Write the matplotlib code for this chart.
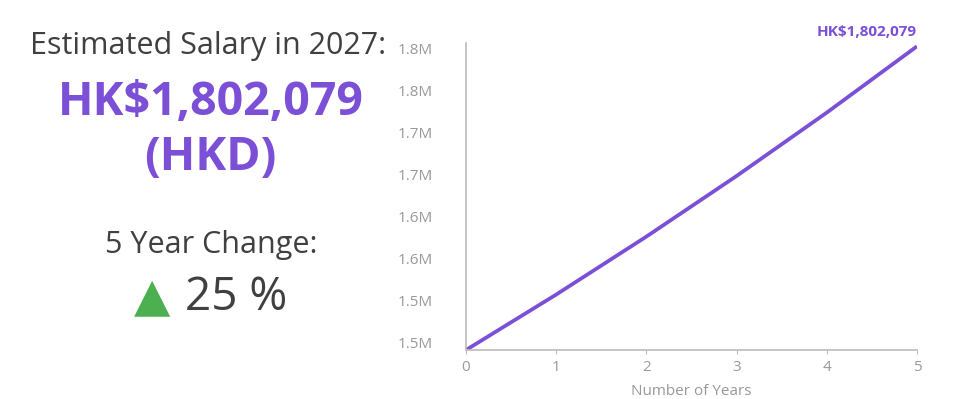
import matplotlib.pyplot as plt

plt.rcParams['font.family'] = ['Open Sans', 'DejaVu Sans']

years = [0, 1, 2, 3, 4, 5]
salary = [1441663, 1507460, 1576260, 1648200, 1723430, 1802079]
ytick_vals = [1450000, 1500000, 1550000, 1600000, 1650000, 1700000, 1750000, 1800000]
ytick_labels = ['1.5M', '1.5M', '1.6M', '1.6M', '1.7M', '1.7M', '1.8M', '1.8M']

purple = '#7b4fd6'
dark = '#404040'
grey = '#999999'

fig = plt.figure(figsize=(9.61, 3.99), dpi=100)

# left panel text
fig.text(0.217, 0.885, 'Estimated Salary in 2027:', ha='center', va='center',
         fontsize=22, color=dark)
fig.text(0.219, 0.742, 'HK$1,802,079', ha='center', va='center',
         fontsize=33.5, color=purple, fontweight='bold')
fig.text(0.219, 0.605, '(HKD)', ha='center', va='center',
         fontsize=33.5, color=purple, fontweight='bold')
fig.text(0.220, 0.385, '5 Year Change:', ha='center', va='center',
         fontsize=22, color=dark)
fig.text(0.158, 0.255, '\u25b2', ha='center', va='center', fontsize=34,
         color='#4caf50', family='DejaVu Sans')
fig.text(0.246, 0.253, '25 %', ha='center', va='center', fontsize=33, color=dark)

# line chart
ax = fig.add_axes([0.4849, 0.1228, 0.4693, 0.7694])
ax.plot(years, salary, color=purple, lw=2.7, solid_capstyle='butt')
ax.set_xlim(0, 5)
ax.set_ylim(salary[0], 1806000)
ax.set_yticks(ytick_vals)
ax.set_yticklabels(ytick_labels)
ax.set_xticks(years)
ax.tick_params(axis='y', length=0, pad=24, labelsize=11, labelcolor=grey)
ax.tick_params(axis='x', length=3, color='#bbbbbb', pad=4, labelsize=11, labelcolor=grey)
for s in ['top', 'right']:
    ax.spines[s].set_visible(False)
for s in ['left', 'bottom']:
    ax.spines[s].set_color('#bbbbbb')
    ax.spines[s].set_linewidth(1.2)
ax.set_xlabel('Number of Years', fontsize=11, color=grey, labelpad=7)

ax.annotate('HK$1,802,079', (years[-1], salary[-1]), xytext=(0, 10),
            textcoords='offset points', ha='right', va='center',
            fontsize=11, fontweight='bold', color=purple, annotation_clip=False)

fig.savefig('out.png', dpi=100)
